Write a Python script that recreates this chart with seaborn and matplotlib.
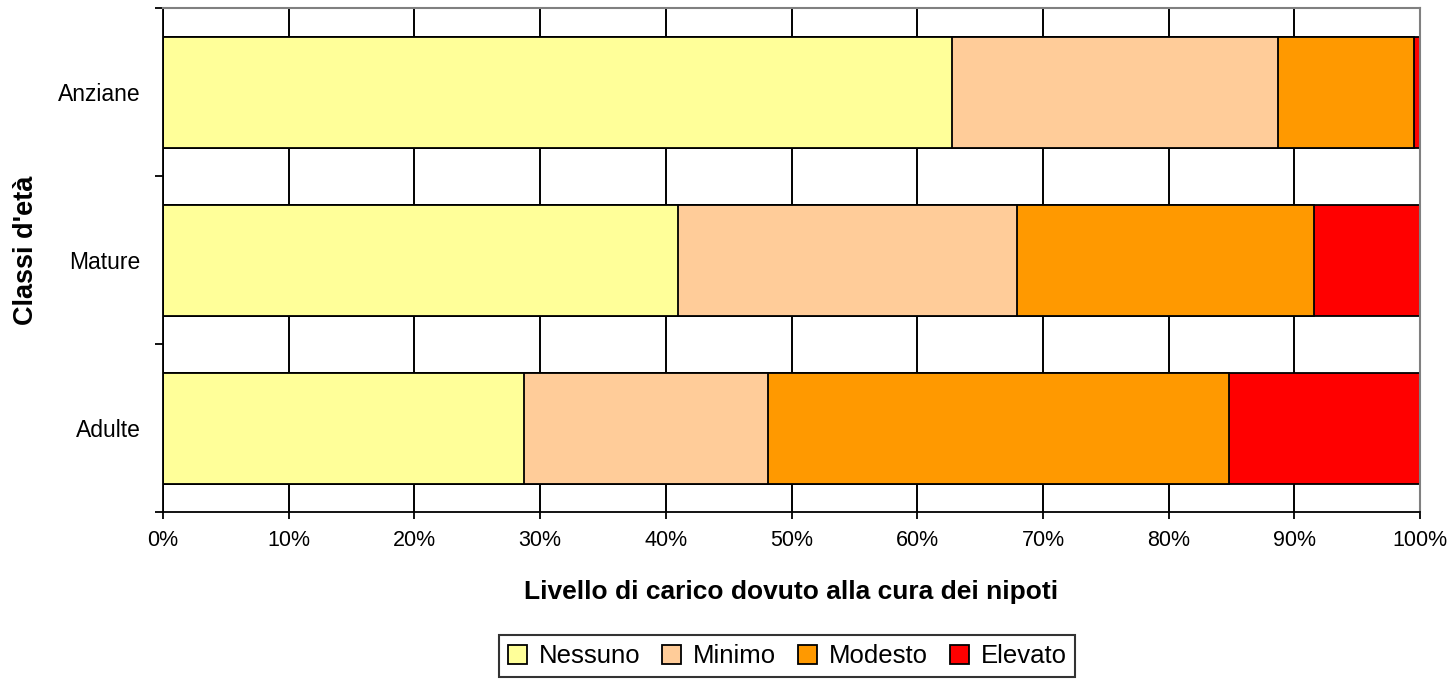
import numpy as np
import matplotlib
matplotlib.use("Agg")
import matplotlib.pyplot as plt
import seaborn as sns
from matplotlib.patches import Patch

# Data (percentages)
classi = ['Anziane', 'Mature', 'Adulte']
livelli = ['Nessuno', 'Minimo', 'Modesto', 'Elevato']
nessuno = [62.8, 41.0, 28.7]
minimo = [25.9, 26.9, 19.4]
modesto = [10.8, 23.7, 36.7]
elevato = [0.5, 8.4, 15.2]
colori = ['#FFFF99', '#FFCC99', '#FF9900', '#FF0000']
x_ticks = [0, 10, 20, 30, 40, 50, 60, 70, 80, 90, 100]

sns.set_style("white")
plt.rcParams['font.family'] = ['Liberation Sans', 'DejaVu Sans']
plt.rcParams['text.color'] = 'black'
plt.rcParams['axes.labelcolor'] = 'black'
plt.rcParams['xtick.color'] = 'black'
plt.rcParams['ytick.color'] = 'black'

fig = plt.figure(figsize=(14.55, 6.81), dpi=100)
ax = fig.add_axes([0.112, 0.248, 0.864, 0.740])

# cumulative stacks, drawn from the longest to the shortest
serie = np.array([nessuno, minimo, modesto, elevato])
cum = np.cumsum(serie, axis=0)
for i in range(len(livelli) - 1, -1, -1):
    sns.barplot(x=cum[i], y=classi, color=colori[i], orient='h', width=0.66,
                edgecolor='black', linewidth=1.3, saturation=1, ax=ax)

ax.set_xlim(0, 100)
ax.set_xticks(x_ticks)
ax.set_xticklabels([f'{t}%' for t in x_ticks], fontsize=15.5)
ax.xaxis.grid(True, color='black', linewidth=1.4)
ax.yaxis.grid(False)
ax.set_axisbelow(True)

# category boundaries as major ticks, names as minor ticks
ax.set_yticks([-0.5, 0.5, 1.5, 2.5])
ax.set_yticklabels([])
ax.set_yticks([0, 1, 2], minor=True)
ax.set_yticklabels(classi, minor=True, fontsize=16.5)
ax.set_ylim(2.5, -0.5)
ax.tick_params(axis='y', which='major', direction='out', length=6, width=1.3, color='black', left=True)
ax.tick_params(axis='y', which='minor', length=0, pad=16)
ax.tick_params(axis='x', direction='out', length=5, width=1.3, color='black', pad=8, bottom=True)

for s in ['left', 'bottom']:
    ax.spines[s].set_color('black')
    ax.spines[s].set_linewidth(1.3)
for s in ['top', 'right']:
    ax.spines[s].set_color('#808080')
    ax.spines[s].set_linewidth(1.5)

ax.set_xlabel('Livello di carico dovuto alla cura dei nipoti', fontsize=19, fontweight='bold', labelpad=21)
ax.set_ylabel("Classi d'età", fontsize=19.5, fontweight='bold')
ax.yaxis.set_label_coords(-0.0985, 0.52)

handles = [Patch(facecolor=c, edgecolor='black', linewidth=1.3, label=l) for c, l in zip(colori, livelli)]
leg = fig.legend(handles=handles, loc='center', bbox_to_anchor=(0.541, 0.036), ncol=4, fontsize=18.5,
                 frameon=True, fancybox=False, edgecolor='black', handlelength=0.75, handleheight=0.75,
                 handletextpad=0.45, columnspacing=0.85, borderpad=0.35, borderaxespad=0)
leg.get_frame().set_linewidth(1.5)

fig.savefig('out.png', dpi=100)
